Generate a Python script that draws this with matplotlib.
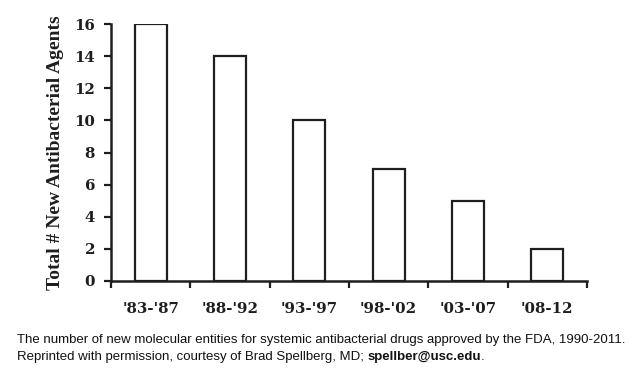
import matplotlib
matplotlib.use("Agg")
import matplotlib.pyplot as plt
import numpy as np

categories = ["'83-'87", "'88-'92", "'93-'97", "'98-'02", "'03-'07", "'08-12"]
values = [16, 14, 10, 7, 5, 2]
yticks = [0, 2, 4, 6, 8, 10, 12, 14, 16]

ink = "#1e1e1e"
fig = plt.figure(figsize=(6.4, 3.74), dpi=100)
ax = fig.add_axes([111/640, 1-281/374, (587-111)/640, (281-24)/374])

x = np.arange(len(categories))
ax.bar(x, values, width=0.4, facecolor="white", edgecolor=ink, linewidth=1.6, zorder=3)

ax.set_xlim(-0.5, len(categories) - 0.5)
ax.set_ylim(0, 16)
ax.set_yticks(yticks)
ax.set_yticklabels([str(v) for v in yticks], fontfamily="DejaVu Serif",
                   fontweight="bold", fontsize=10.8, color=ink)
ax.set_xticks(np.arange(-0.5, len(categories), 1.0))
ax.set_xticklabels([])
ax.set_xticks(x, minor=True)
ax.set_xticklabels(categories, minor=True, fontfamily="DejaVu Serif",
                   fontweight="bold", fontsize=10.8, color=ink)
ax.tick_params(axis="x", which="minor", length=0, pad=15)
ax.tick_params(axis="x", which="major", length=5, width=1.6, color=ink, direction="out")
ax.tick_params(axis="y", length=5, width=1.6, color=ink, direction="out", pad=6.5)

for s in ["top", "right"]:
    ax.spines[s].set_visible(False)
for s in ["left", "bottom"]:
    ax.spines[s].set_linewidth(1.8)
    ax.spines[s].set_color(ink)

ax.set_ylabel("Total # New Antibacterial Agents", fontfamily="Liberation Serif",
              fontweight="bold", fontsize=14, color=ink)
ax.yaxis.set_label_coords(-(111-64)/476, 0.5)

cap_font = ["Liberation Sans Narrow", "Liberation Sans", "DejaVu Sans"]
fig.text(17/640, 1-343/374,
         "The number of new molecular entities for systemic antibacterial drugs approved by the FDA, 1990-2011.",
         fontfamily=cap_font, fontsize=9.5, color="#111111", va="baseline")
t1 = fig.text(17/640, 1-360/374,
              "Reprinted with permission, courtesy of Brad Spellberg, MD; ",
              fontfamily=cap_font, fontsize=9.5, color="#111111", va="baseline")
fig.canvas.draw()
bb = t1.get_window_extent()
fig.text(bb.x1/640, 1-360/374, "spellber@usc.edu",
         fontfamily=cap_font, fontsize=9.5, fontweight="bold", color="#111111", va="baseline")
bb2 = fig.texts[-1].get_window_extent()
fig.text(bb2.x1/640, 1-360/374, ".", fontfamily=cap_font, fontsize=9.5,
         color="#111111", va="baseline")

fig.savefig("out.png", dpi=100)
